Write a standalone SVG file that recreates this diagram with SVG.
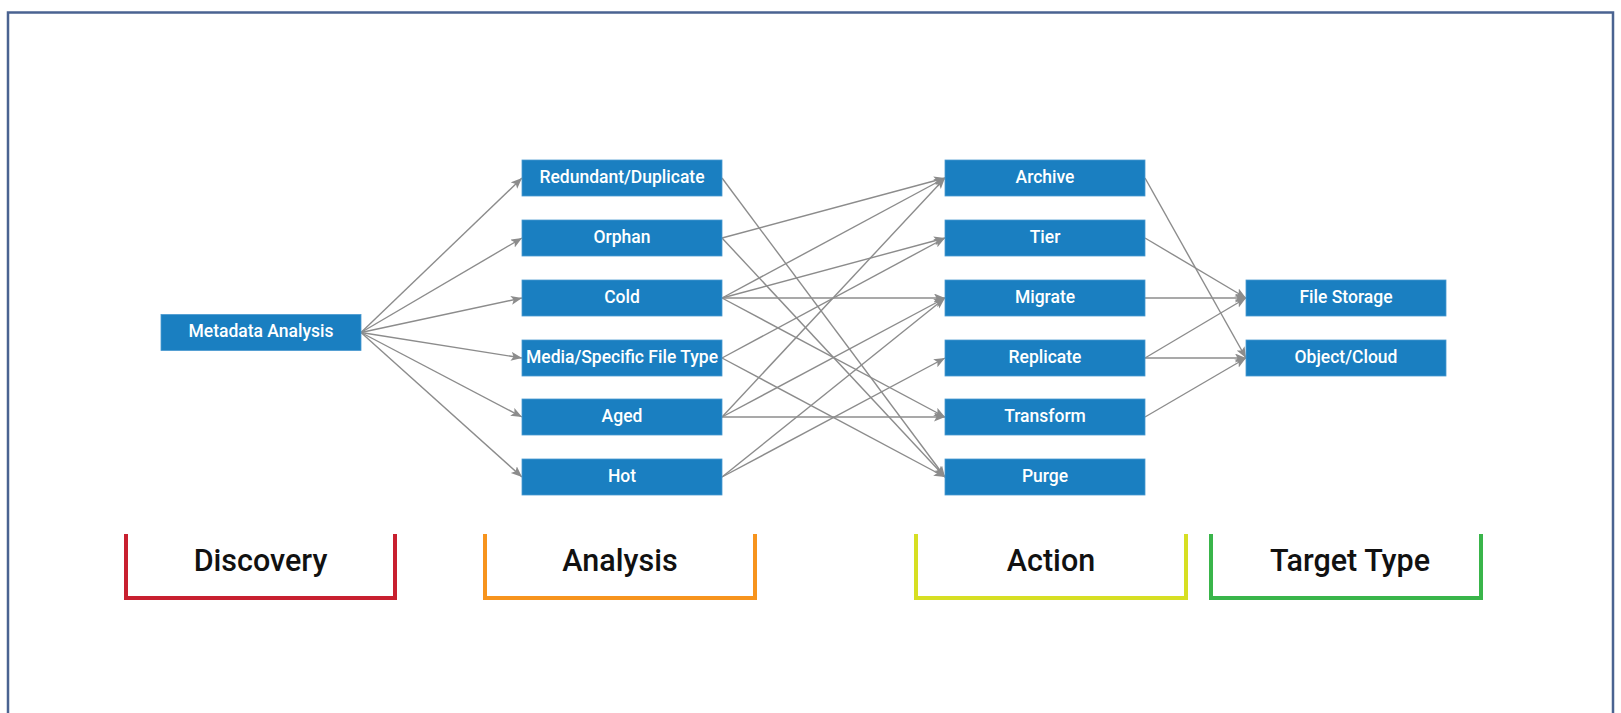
<svg xmlns="http://www.w3.org/2000/svg" width="1621" height="713" viewBox="0 0 1621 713">
<style>
.node rect{fill:#1A7FC1;stroke:#4A9AD0;stroke-width:0.8}
.node text{fill:#FFFFFF;font-family:Roboto,"Liberation Sans",sans-serif;font-weight:500;font-size:17.5px;text-anchor:middle}
.edge{stroke:#8C8C8C;stroke-width:1.4;fill:none;marker-end:url(#arrow)}
.bracket{fill:none;stroke-width:4}
.stage{fill:#111111;font-family:Roboto,"Liberation Sans",sans-serif;font-weight:500;font-size:30.5px;text-anchor:middle}
</style>
<defs>
<marker id="arrow" markerUnits="userSpaceOnUse" markerWidth="12" markerHeight="10" refX="11" refY="4.5" orient="auto">
<path d="M0,0 L11,4.5 L0,9 L2.5,4.5 z" fill="#8C8C8C"/>
</marker>
</defs>
<rect x="0" y="0" width="1621" height="713" fill="#FFFFFF"/>
<path d="M8,713 V12.5 H1613 V713" fill="none" stroke="#4A6391" stroke-width="2.5"/>

<g id="connectors">
<!-- Discovery to Analysis -->
<line class="edge" x1="361" y1="332.5" x2="522" y2="178"/>
<line class="edge" x1="361" y1="332.5" x2="522" y2="238"/>
<line class="edge" x1="361" y1="332.5" x2="522" y2="298"/>
<line class="edge" x1="361" y1="332.5" x2="522" y2="358"/>
<line class="edge" x1="361" y1="332.5" x2="522" y2="417"/>
<line class="edge" x1="361" y1="332.5" x2="522" y2="477"/>
<!-- Analysis to Action -->
<line class="edge" x1="722" y1="178" x2="945" y2="477"/>
<line class="edge" x1="722" y1="238" x2="945" y2="178"/>
<line class="edge" x1="722" y1="238" x2="945" y2="477"/>
<line class="edge" x1="722" y1="298" x2="945" y2="178"/>
<line class="edge" x1="722" y1="298" x2="945" y2="238"/>
<line class="edge" x1="722" y1="298" x2="945" y2="298"/>
<line class="edge" x1="722" y1="298" x2="945" y2="417"/>
<line class="edge" x1="722" y1="358" x2="945" y2="238"/>
<line class="edge" x1="722" y1="358" x2="945" y2="477"/>
<line class="edge" x1="722" y1="417" x2="945" y2="178"/>
<line class="edge" x1="722" y1="417" x2="945" y2="298"/>
<line class="edge" x1="722" y1="417" x2="945" y2="417"/>
<line class="edge" x1="722" y1="477" x2="945" y2="298"/>
<line class="edge" x1="722" y1="477" x2="945" y2="358"/>
<!-- Action to Target -->
<line class="edge" x1="1145" y1="178" x2="1246" y2="358"/>
<line class="edge" x1="1145" y1="238" x2="1246" y2="298"/>
<line class="edge" x1="1145" y1="298" x2="1246" y2="298"/>
<line class="edge" x1="1145" y1="358" x2="1246" y2="298"/>
<line class="edge" x1="1145" y1="358" x2="1246" y2="358"/>
<line class="edge" x1="1145" y1="417" x2="1246" y2="358"/>
</g>

<g id="metadata-analysis" class="node"><rect x="161" y="314.5" width="200" height="36"/><text x="261" y="337">Metadata Analysis</text></g>

<g id="redundant-duplicate" class="node"><rect x="522" y="160" width="200" height="36"/><text x="622" y="182.5">Redundant/Duplicate</text></g>
<g id="orphan" class="node"><rect x="522" y="220" width="200" height="36"/><text x="622" y="242.5">Orphan</text></g>
<g id="cold" class="node"><rect x="522" y="280" width="200" height="36"/><text x="622" y="302.5">Cold</text></g>
<g id="media-specific-file-type" class="node"><rect x="522" y="340" width="200" height="36"/><text x="622" y="362.5">Media/Specific File Type</text></g>
<g id="aged" class="node"><rect x="522" y="399" width="200" height="36"/><text x="622" y="421.5">Aged</text></g>
<g id="hot" class="node"><rect x="522" y="459" width="200" height="36"/><text x="622" y="481.5">Hot</text></g>

<g id="archive" class="node"><rect x="945" y="160" width="200" height="36"/><text x="1045" y="182.5">Archive</text></g>
<g id="tier" class="node"><rect x="945" y="220" width="200" height="36"/><text x="1045" y="242.5">Tier</text></g>
<g id="migrate" class="node"><rect x="945" y="280" width="200" height="36"/><text x="1045" y="302.5">Migrate</text></g>
<g id="replicate" class="node"><rect x="945" y="340" width="200" height="36"/><text x="1045" y="362.5">Replicate</text></g>
<g id="transform" class="node"><rect x="945" y="399" width="200" height="36"/><text x="1045" y="421.5">Transform</text></g>
<g id="purge" class="node"><rect x="945" y="459" width="200" height="36"/><text x="1045" y="481.5">Purge</text></g>

<g id="file-storage" class="node"><rect x="1246" y="280" width="200" height="36"/><text x="1346" y="302.5">File Storage</text></g>
<g id="object-cloud" class="node"><rect x="1246" y="340" width="200" height="36"/><text x="1346" y="362.5">Object/Cloud</text></g>

<g id="stage-discovery"><path class="bracket" d="M126,534 V598 H395 V534" stroke="#C8202F"/><text class="stage" x="260.5" y="571">Discovery</text></g>
<g id="stage-analysis"><path class="bracket" d="M485,534 V598 H755 V534" stroke="#F7941D"/><text class="stage" x="620" y="571">Analysis</text></g>
<g id="stage-action"><path class="bracket" d="M916,534 V598 H1186 V534" stroke="#D7DF23"/><text class="stage" x="1051" y="571">Action</text></g>
<g id="stage-target-type"><path class="bracket" d="M1211,534 V598 H1481 V534" stroke="#39B54A"/><text class="stage" x="1350" y="571">Target Type</text></g>
</svg>
